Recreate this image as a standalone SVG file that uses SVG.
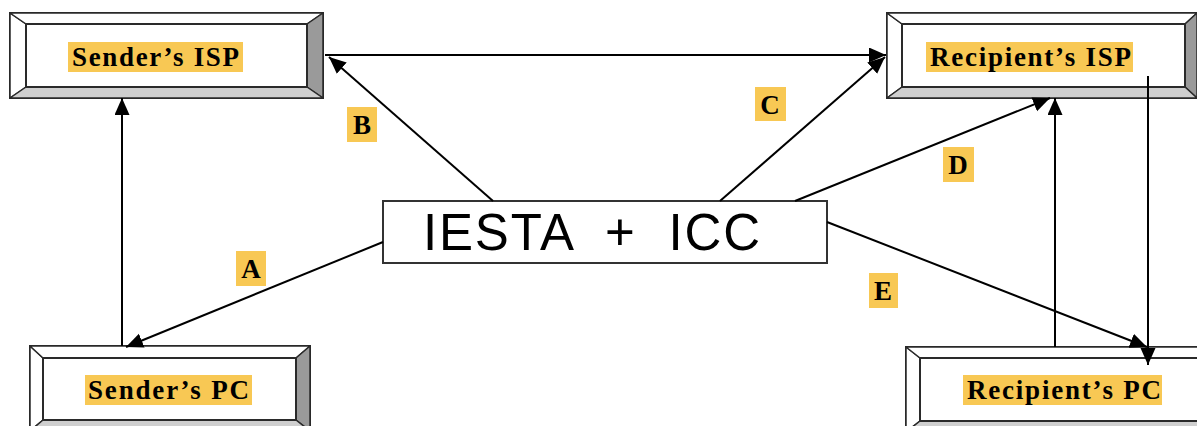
<svg xmlns="http://www.w3.org/2000/svg" width="1197" height="426" viewBox="0 0 1197 426">
<style>
.outer{fill:#ffffff;stroke:#2a2a2a;stroke-width:2}
.inner{fill:#ffffff;stroke:#2a2a2a;stroke-width:2}
.bl{fill:#ffffff;stroke:#2a2a2a;stroke-width:1.5;stroke-linejoin:round}
.br{fill:#9a9a9a;stroke:#2a2a2a;stroke-width:1.5;stroke-linejoin:round}
.bb{fill:#cfcfcf;stroke:#2a2a2a;stroke-width:1.5;stroke-linejoin:round}
.hl{fill:#F8C854}
.lbl{font-family:"Liberation Serif","Times New Roman",serif;font-weight:bold;font-size:27px;fill:#000}
.let{font-family:"Liberation Serif","Times New Roman",serif;font-weight:bold;font-size:27px;fill:#000;text-anchor:middle}
.conn{stroke:#000;stroke-width:2;fill:none;marker-end:url(#ah)}
.center{fill:#fff;stroke:#333;stroke-width:2}
.ctext{font-family:"Liberation Sans",Arial,sans-serif;font-size:51px;fill:#000}
</style>
<defs>
<marker id="ah" markerUnits="userSpaceOnUse" markerWidth="18" markerHeight="16" refX="17" refY="7.5" orient="auto">
<path d="M0,0 L17,7.5 L0,15 z" fill="#000"/>
</marker>
</defs>
<rect width="1197" height="426" fill="#fff"/>

<g id="sender-isp">
<rect class="outer" x="10" y="13" width="313" height="85"/>
<polygon class="bl" points="10,13 26,24 26,87 10,98"/>
<polygon class="bl" points="10,13 323,13 307,24 26,24"/>
<polygon class="br" points="323,13 323,98 307,87 307,24"/>
<polygon class="bb" points="10,98 26,87 307,87 323,98"/>
<rect class="inner" x="26" y="24" width="281" height="63"/>
<rect class="hl" x="68" y="42" width="175" height="30"/>
<text class="lbl" x="72" y="66" textLength="167" lengthAdjust="spacing">Sender’s ISP</text>
</g>

<g id="recipient-isp">
<rect class="outer" x="887" y="13" width="310" height="85"/>
<polygon class="bl" points="887,13 902,24 902,87 887,98"/>
<polygon class="bl" points="887,13 1197,13 1185,24 902,24"/>
<polygon class="br" points="1197,13 1197,98 1185,87 1185,24"/>
<polygon class="bb" points="887,98 902,87 1185,87 1197,98"/>
<rect class="inner" x="902" y="24" width="283" height="63"/>
<rect class="hl" x="926" y="42" width="207" height="30"/>
<text class="lbl" x="930" y="66" textLength="201" lengthAdjust="spacing">Recipient’s ISP</text>
</g>

<g id="sender-pc">
<rect class="outer" x="30" y="346" width="280" height="85"/>
<polygon class="bl" points="30,346 43,358 43,420 30,431"/>
<polygon class="bl" points="30,346 310,346 296,358 43,358"/>
<polygon class="br" points="310,346 310,431 296,420 296,358"/>
<polygon class="bb" points="30,431 43,420 296,420 310,431"/>
<rect class="inner" x="43" y="358" width="253" height="62"/>
<rect class="hl" x="85" y="375" width="167" height="30"/>
<text class="lbl" x="88" y="399" textLength="161" lengthAdjust="spacing">Sender’s PC</text>
</g>

<g id="recipient-pc">
<rect class="outer" x="906" y="347" width="310" height="85"/>
<polygon class="bl" points="906,347 920,358 920,421 906,432"/>
<polygon class="bl" points="906,347 1216,347 1202,358 920,358"/>
<polygon class="bb" points="906,432 920,421 1202,421 1216,432"/>
<rect class="inner" x="920" y="358" width="282" height="63"/>
<rect class="hl" x="963" y="375" width="199" height="30"/>
<text class="lbl" x="967" y="399" textLength="194" lengthAdjust="spacing">Recipient’s PC</text>
</g>

<g id="center">
<rect class="center" x="383" y="201" width="444" height="62"/>
<text class="ctext" x="423" y="250" textLength="337" lengthAdjust="spacing" xml:space="preserve">IESTA  +  ICC</text>
</g>

<g id="connectors">
<path class="conn" d="M122,346 L122,98"/>
<path class="conn" d="M383,242 L126,347"/>
<path class="conn" d="M493,201 L329,57"/>
<path class="conn" d="M325,55 L886,55"/>
<path class="conn" d="M720,201 L885,57"/>
<path class="conn" d="M795,201 L1050,98"/>
<path class="conn" d="M1055,347 L1055,98"/>
<path class="conn" d="M827,222 L1147,347"/>
<path class="conn" d="M1148,76 L1148,365"/>
</g>

<g id="label-a"><rect class="hl" x="236" y="251" width="30" height="35"/><text class="let" x="251" y="278">A</text></g>
<g id="label-b"><rect class="hl" x="347" y="107" width="30" height="35"/><text class="let" x="362" y="134">B</text></g>
<g id="label-c"><rect class="hl" x="755" y="87" width="31" height="34"/><text class="let" x="770" y="114">C</text></g>
<g id="label-d"><rect class="hl" x="943" y="147" width="31" height="35"/><text class="let" x="958" y="174">D</text></g>
<g id="label-e"><rect class="hl" x="869" y="273" width="29" height="35"/><text class="let" x="883" y="300">E</text></g>
</svg>
